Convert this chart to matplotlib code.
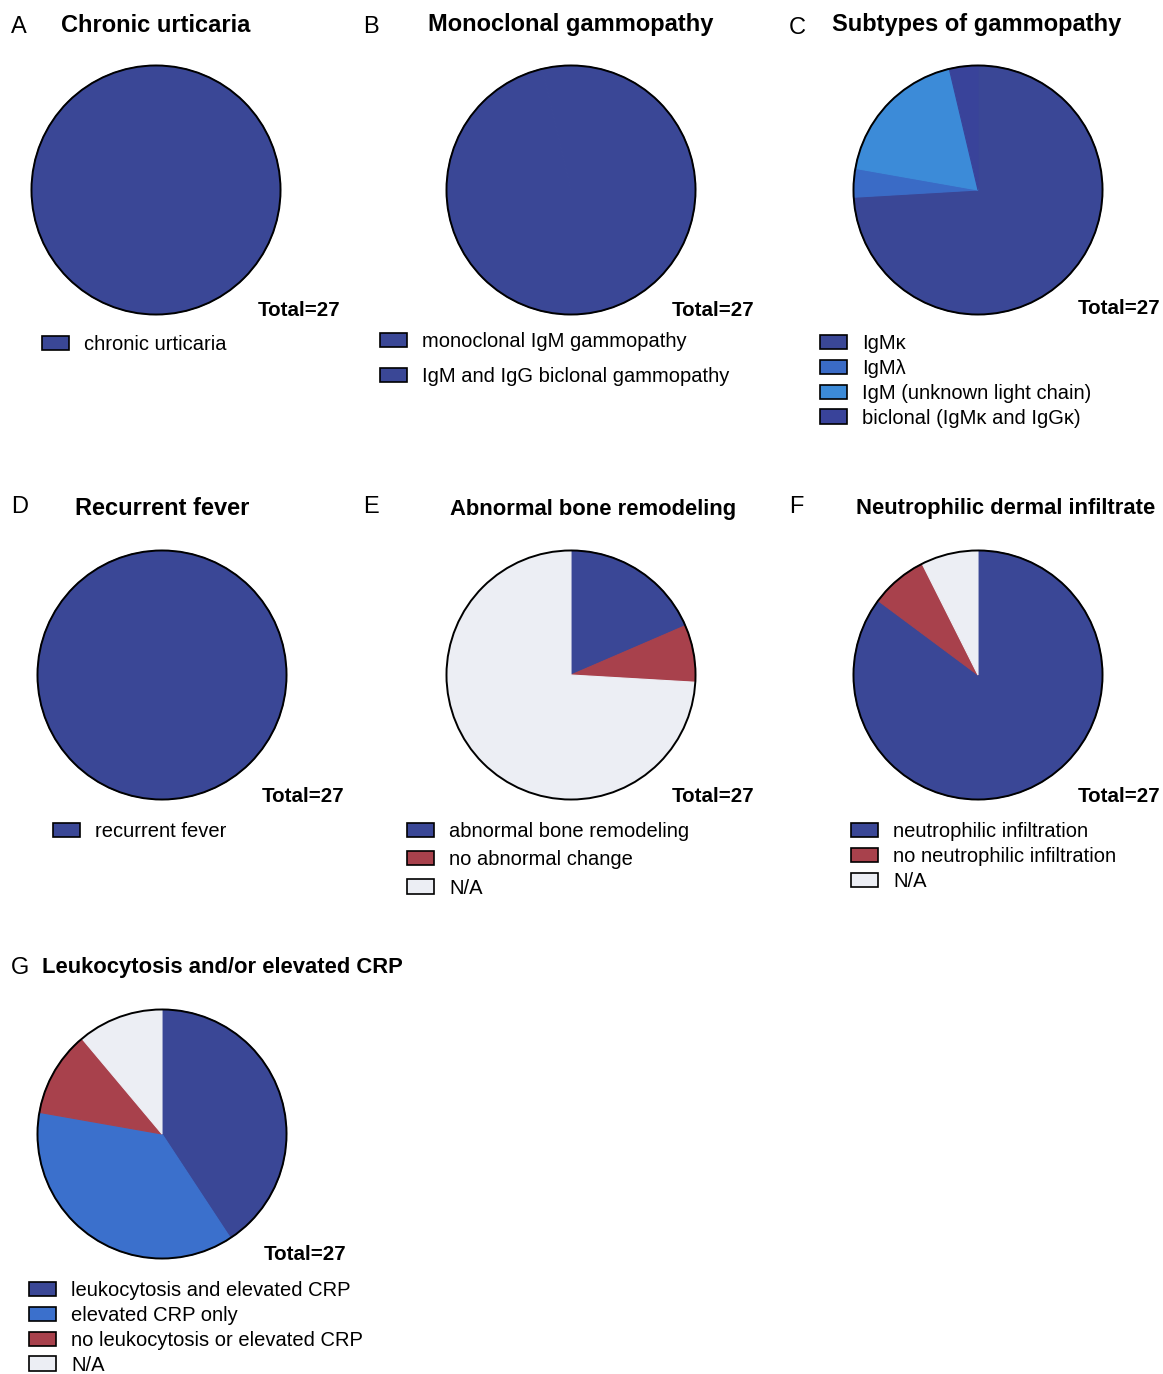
import matplotlib.pyplot as plt
from matplotlib.patches import Patch, Circle

plt.rcParams['font.family'] = ['Liberation Sans', 'DejaVu Sans']

W, H = 1163, 1374

# data (counts, total 27 in every panel)
a_labels = ["chronic urticaria"]
a_counts = [27]
b_labels = ["monoclonal IgM gammopathy", "IgM and IgG biclonal gammopathy"]
b_counts = [26, 1]
c_labels = ["IgMκ", "IgMλ", "IgM (unknown light chain)", "biclonal (IgMκ and IgGκ)"]
c_counts = [20, 1, 5, 1]
d_labels = ["recurrent fever"]
d_counts = [27]
e_labels = ["abnormal bone remodeling", "no abnormal change", "N/A"]
e_counts = [5, 2, 20]
f_labels = ["neutrophilic infiltration", "no neutrophilic infiltration", "N/A"]
f_counts = [23, 2, 2]
g_labels = ["leukocytosis and elevated CRP", "elevated CRP only",
            "no leukocytosis or elevated CRP", "N/A"]
g_counts = [11, 10, 3, 3]

navy = "#3a4796"
red = "#a8414c"
na = "#eceef4"

panels = [
    # letter, title, title size, labels, counts, colors, letter pos, title pos/ha,
    # pie center, total x/y, legend x/y, spacing
    ("A", "Chronic urticaria", 17, a_labels, a_counts, [navy],
     (11, 27), (156, 25, "center"), (156, 190), (340, 310), (42, 335), 0.3),
    ("B", "Monoclonal gammopathy", 17, b_labels, b_counts, [navy, navy],
     (363, 27), (571, 25, "center"), (571, 190), (754, 310), (380, 332), 0.79),
    ("C", "Subtypes of gammopathy", 17, c_labels, c_counts,
     [navy, "#3a6bc6", "#3c8bd8", "#39439a"],
     (789, 28), (977, 25, "center"), (978, 190), (1160, 309), (820, 334), 0.29),
    ("D", "Recurrent fever", 17, d_labels, d_counts, [navy],
     (11, 507), (162, 509, "center"), (162, 675), (344, 796), (53, 822), 0.3),
    ("E", "Abnormal bone remodeling", 15.8, e_labels, e_counts, [navy, red, na],
     (363, 507), (593, 510, "center"), (571, 675), (754, 796), (407, 822), 0.46),
    ("F", "Neutrophilic dermal infiltrate", 15.8, f_labels, f_counts, [navy, red, na],
     (789, 507), (1006, 509, "center"), (978, 675), (1160, 796), (851, 822), 0.31),
    ("G", "Leukocytosis and/or elevated CRP", 15.8, g_labels, g_counts,
     [navy, "#3b70cc", red, na],
     (11, 968), (42, 968, "left"), (162, 1134), (346, 1254), (29, 1281), 0.29),
]

fig = plt.figure(figsize=(W / 100, H / 100), dpi=100)
r = 127

for (letter, title, tsize, labels, counts, colors, lp, tp, cen, tot, lg, sp) in panels:
    cx, cy = cen
    ax = fig.add_axes([(cx - r) / W, 1 - (cy + r) / H, 2 * r / W, 2 * r / H])
    wedges, _ = ax.pie(counts, colors=colors, startangle=90, counterclock=False,
                       wedgeprops=dict(linewidth=0.8))
    for w in wedges:
        w.set_edgecolor(w.get_facecolor())
    ax.add_patch(Circle((0, 0), 1, fill=False, edgecolor="black", linewidth=1.4))
    ax.set_xlim(-1.02, 1.02)
    ax.set_ylim(-1.02, 1.02)
    ax.set_aspect("equal")
    ax.axis("off")

    fig.text(lp[0] / W, 1 - lp[1] / H, letter, fontsize=17, va="center", ha="left")
    fig.text(tp[0] / W, 1 - tp[1] / H, title, fontsize=tsize, fontweight="bold",
             va="center", ha=tp[2])
    fig.text(tot[0] / W, 1 - tot[1] / H, "Total=27", fontsize=14.8, fontweight="bold",
             va="center", ha="right")

    handles = [Patch(facecolor=c, edgecolor="black", linewidth=1.2) for c in colors]
    fig.legend(handles, labels, loc="upper left",
               bbox_to_anchor=(lg[0] / W, 1 - lg[1] / H), frameon=False,
               fontsize=14.5, handlelength=1.34, handleheight=0.7,
               handletextpad=0.75, labelspacing=sp, borderpad=0, borderaxespad=0)

fig.savefig("out.png", dpi=100, facecolor="white")
